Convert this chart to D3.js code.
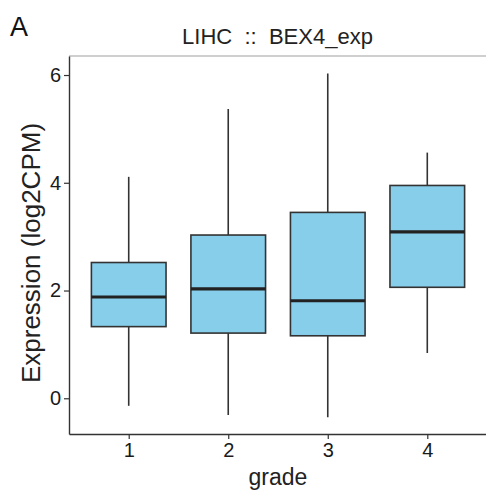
<!DOCTYPE html>
<html>
<head>
<meta charset="utf-8">
<script src="https://cdn.jsdelivr.net/npm/d3@7"></script>
<style>
  body { margin: 0; background: #fff; }
  text { font-family: "Liberation Sans", Arial, sans-serif; }
</style>
</head>
<body>
<div id="canvas"></div>
<script>
const grades = ["1", "2", "3", "4"];
const whiskerLow = [-0.14, -0.31, -0.35, 0.84];
const q1 = [1.33, 1.21, 1.16, 2.06];
const median = [1.88, 2.03, 1.81, 3.09];
const q3 = [2.52, 3.03, 3.45, 3.95];
const whiskerHigh = [4.11, 5.37, 6.03, 4.56];
const yTicks = [0, 2, 4, 6];

const data = grades.map((g, i) => ({
    grade: +g, lo: whiskerLow[i], q1: q1[i], med: median[i], q3: q3[i], hi: whiskerHigh[i]
}));

const width = 486;
const height = 496;
const margin = { top: 56, left: 69, bottom: 62, right: -1 };

const svg = d3.select("#canvas").append("svg")
    .attr("width", width)
    .attr("height", height);

const x = d3.scaleLinear()
    .domain([0.4, 4.6])
    .range([margin.left, width - margin.right]);

const y = d3.scaleLinear()
    .domain([-0.663, 6.353])
    .range([height - margin.bottom, margin.top]);

const boxW = 0.75;

// faint panel top border
svg.append("line")
    .attr("x1", margin.left).attr("x2", width)
    .attr("y1", margin.top).attr("y2", margin.top)
    .attr("stroke", "#a0a0a0").attr("stroke-width", 1.2);

const g = svg.append("g");

// whiskers
g.selectAll(".whisker").data(data).enter().append("line")
    .attr("x1", d => x(d.grade)).attr("x2", d => x(d.grade))
    .attr("y1", d => y(d.lo)).attr("y2", d => y(d.hi))
    .attr("stroke", "#333").attr("stroke-width", 1.6);

// boxes
g.selectAll(".box").data(data).enter().append("rect")
    .attr("x", d => x(d.grade - boxW / 2))
    .attr("width", d => x(d.grade + boxW / 2) - x(d.grade - boxW / 2))
    .attr("y", d => y(d.q3))
    .attr("height", d => y(d.q1) - y(d.q3))
    .attr("fill", "#87CEEB")
    .attr("stroke", "#333").attr("stroke-width", 1.6);

// medians
g.selectAll(".median").data(data).enter().append("line")
    .attr("x1", d => x(d.grade - boxW / 2)).attr("x2", d => x(d.grade + boxW / 2))
    .attr("y1", d => y(d.med)).attr("y2", d => y(d.med))
    .attr("stroke", "#222").attr("stroke-width", 3.2);

// axes
const yAxis = svg.append("g")
    .attr("transform", `translate(${margin.left},0)`)
    .call(d3.axisLeft(y).tickValues(yTicks).tickFormat(d3.format("d"))
        .tickSize(5).tickPadding(3).tickSizeOuter(0));

const xAxis = svg.append("g")
    .attr("transform", `translate(0,${height - margin.bottom})`)
    .call(d3.axisBottom(x).tickValues(grades.map(Number)).tickFormat(d3.format("d"))
        .tickSize(5).tickPadding(4).tickSizeOuter(0));

[yAxis, xAxis].forEach(a => {
    a.attr("font-size", 20).attr("font-family", "'Liberation Sans', Arial, sans-serif");
    a.select(".domain").attr("stroke", "#333").attr("stroke-width", 1.4);
    a.selectAll(".tick line").attr("stroke", "#333").attr("stroke-width", 1.2);
    a.selectAll(".tick text").attr("fill", "#1a1a1a");
});

// titles
svg.append("text")
    .attr("x", 10).attr("y", 36)
    .style("font-size", "27px").attr("fill", "#111")
    .text("A");

svg.append("text")
    .attr("x", (margin.left + width) / 2).attr("y", 44)
    .attr("text-anchor", "middle")
    .style("font-size", "22px").attr("fill", "#222")
    .style("white-space", "pre")
    .text("LIHC  ::  BEX4_exp");

svg.append("text")
    .attr("x", 278).attr("y", 485)
    .attr("text-anchor", "middle")
    .style("font-size", "23px").attr("fill", "#222")
    .text("grade");

svg.append("text")
    .attr("transform", `translate(40,253) rotate(-90)`)
    .attr("text-anchor", "middle")
    .style("font-size", "26px").attr("fill", "#222")
    .text("Expression (log2CPM)");
</script>
</body>
</html>
